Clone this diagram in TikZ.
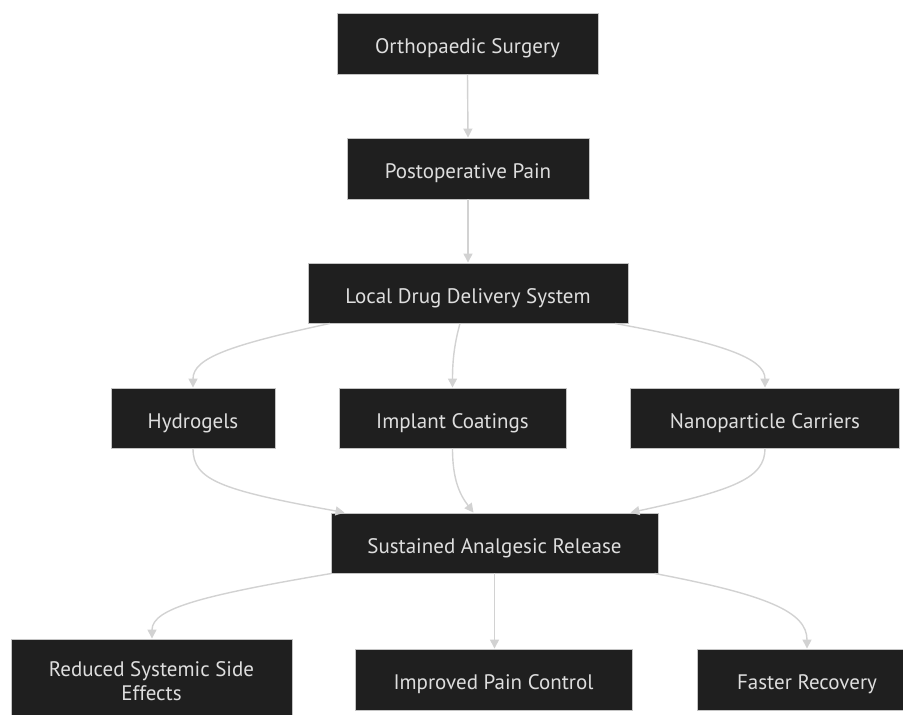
\documentclass[tikz,border=0pt]{standalone}
\usepackage{fontspec}
\setmainfont{PT Sans}
\usetikzlibrary{arrows.meta}
\definecolor{boxfill}{RGB}{31,31,31}
\definecolor{boxline}{RGB}{196,196,196}
\definecolor{boxtext}{RGB}{222,222,222}
\definecolor{edgecol}{RGB}{210,210,210}
\tikzset{
  stepbox/.style={draw=boxline, line width=0.9bp, fill=boxfill, text=boxtext,
    inner sep=0pt, align=center, font=\fontsize{21bp}{24bp}\selectfont},
  oneline/.style={stepbox, text height=21bp, text depth=1bp},
  edge/.style={draw=edgecol, line width=1.4bp,
    -{Triangle[length=9bp,width=9bp]}},
}
\begin{document}
\begin{tikzpicture}[x=1bp,y=-1bp]
\useasboundingbox (0,0) rectangle (903,715);
\clip (0,0) rectangle (903,715);
\fill[white] (0,0) rectangle (903,715);

% boxes
\node[oneline, minimum width=261bp, minimum height=61bp] (os) at (467.5,43.5) {Orthopaedic Surgery};
\node[oneline, minimum width=242bp, minimum height=61bp] (pp) at (468,168.5) {Postoperative Pain};
\node[oneline, minimum width=320bp, minimum height=60bp] (ld) at (468,293) {Local Drug Delivery System};
\node[oneline, minimum width=164bp, minimum height=60bp] (hy) at (193,418) {Hydrogels};
\node[oneline, minimum width=227bp, minimum height=60bp] (ic) at (452.5,418) {Implant Coatings};
\node[oneline, minimum width=269bp, minimum height=60bp] (nc) at (765,418) {Nanoparticle Carriers};
\node[oneline, minimum width=327bp, minimum height=60bp] (sa) at (494.5,543) {Sustained Analgesic Release};
\node[stepbox, minimum width=281bp, minimum height=84bp] (rs) at (151.5,681) {Reduced Systemic Side\\Effects};
\node[oneline, minimum width=277bp, minimum height=61bp] (ip) at (493.5,679.5) {Improved Pain Control};
\node[oneline, minimum width=220bp, minimum height=61bp] (fr) at (807,679.5) {Faster Recovery};

% connectors
\draw[edge] (os.south) -- (pp.north);
\draw[edge] (pp.south) -- (ld.north);

\draw[edge] ([xshift=-138bp]ld.south) .. controls (230,345) and (193,358) .. (hy.north);
\draw[edge] ([xshift=-8bp]ld.south) .. controls (454,345) and (452.5,362) .. (ic.north);
\draw[edge] ([xshift=147bp]ld.south) .. controls (722,343) and (765,358) .. (nc.north);

\draw[edge] (hy.south) .. controls (193,480) and (220,490) .. ([xshift=-150bp]sa.north);
\draw[edge] (ic.south) .. controls (452.5,480) and (460,495) .. ([xshift=-21bp]sa.north);
\draw[edge] (nc.south) .. controls (765,478) and (735,490) .. ([xshift=136bp]sa.north);

\draw[edge] ([xshift=-163bp]sa.south) .. controls (205,595) and (152,608) .. ([xshift=0.5bp]rs.north);
\draw[edge] (sa.south) -- (sa.south |- ip.north);
\draw[edge] ([xshift=160bp]sa.south) .. controls (768,595) and (807,612) .. (fr.north);
\end{tikzpicture}
\end{document}
